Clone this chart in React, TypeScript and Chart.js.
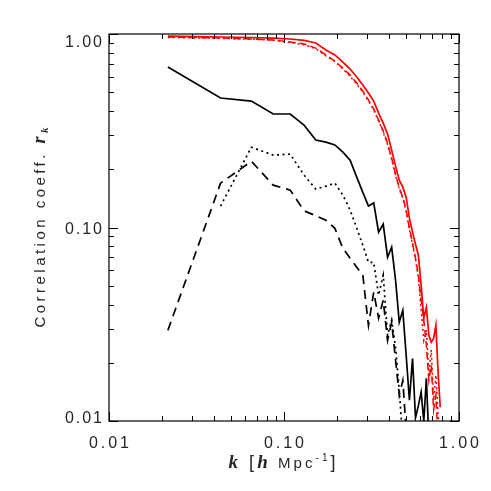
import { useEffect, useRef } from "react";
import { Chart, registerables } from "chart.js";

Chart.register(...registerables);

// wavenumber k [h/Mpc]
const K = [
  0.0217, 0.0434, 0.0651, 0.0868, 0.1085, 0.1302, 0.1519, 0.1736, 0.1953, 0.217,
  0.2387, 0.2604, 0.2821, 0.3038, 0.3255, 0.3472, 0.3689, 0.3906, 0.4123, 0.434,
  0.4557, 0.4774, 0.4991, 0.5208, 0.5425, 0.5642, 0.5859, 0.6076, 0.6293, 0.651,
  0.6727, 0.6944, 0.7161, 0.7378, 0.7595, 0.7812,
];

const RED_SOLID = [
  0.976, 0.965, 0.959, 0.953, 0.942, 0.926, 0.898, 0.826, 0.779, 0.716,
  0.659, 0.599, 0.545, 0.495, 0.45, 0.39, 0.346, 0.304, 0.251, 0.2075,
  0.1757, 0.1616, 0.1435, 0.1117, 0.0946, 0.0819, 0.0719, 0.0503, 0.034, 0.0387,
  0.0277, 0.0255, 0.0267, 0.0312, 0.0178, 0.0118,
];

const RED_DASHED = [
  0.965, 0.953, 0.942, 0.931, 0.909, 0.888, 0.846, 0.779, 0.725, 0.666,
  0.613, 0.558, 0.507, 0.456, 0.41, 0.359, 0.315, 0.273, 0.228, 0.189,
  0.16, 0.1435, 0.123, 0.0992, 0.083, 0.0694, 0.0567, 0.0421, 0.0332, 0.0247,
  0.0162, 0.0194, 0.0114, 0.0136, 0.008, null,
];

const RED_DOTTED = [
  0.96, 0.95, 0.94, 0.928, 0.905, 0.88, 0.84, 0.77, 0.72, 0.66,
  0.605, 0.55, 0.5, 0.45, 0.405, 0.355, 0.31, 0.268, 0.225, 0.186,
  0.158, 0.141, 0.121, 0.0975, 0.0815, 0.068, 0.055, 0.0373, 0.0261, 0.0295,
  0.0173, 0.0233, 0.0128, 0.0173, 0.0107, 0.008,
];

const BLACK_SOLID = [
  0.675, 0.467, 0.45, 0.386, 0.386, 0.338, 0.283, 0.276, 0.267, 0.245,
  0.223, 0.182, 0.152, 0.129, 0.134, 0.0946, 0.104, 0.0702, 0.0791, 0.0534,
  0.0324, 0.0373, 0.0218, 0.0128, 0.021, 0.0104, 0.012, 0.0141, 0.01, 0.0166,
  0.008, null, null, null, null, null,
];

const BLACK_DASHED = [
  0.0294, 0.1695, 0.22, 0.1655, 0.156, 0.122, 0.115, 0.109, 0.099, 0.078,
  0.0694, 0.0623, 0.0567, 0.0312, 0.0463, 0.034, 0.0421, 0.0261, 0.0324, 0.0206,
  0.0136, 0.0162, 0.0089, null, null, null, null, null, null, null,
  null, null, null, null, null, null,
];

const BLACK_DOTTED = [
  null, 0.129, 0.26, 0.2366, 0.2394, 0.1865, 0.158, 0.1635, 0.1695, 0.147,
  0.123, 0.0992, 0.081, 0.0661, 0.0661, 0.0447, 0.0567, 0.0277, 0.0332, 0.024,
  0.0144, 0.0079, null, null, null, null, null, null, null, null,
  null, null, null, null, null, null,
];

const X_TICKS = [0.01, 0.1, 1];
const X_TICK_LABELS = ["0.01", "0.10", "1.00"];
const Y_TICKS = [0.01, 0.1, 1];
const Y_TICK_LABELS = ["0.01", "0.10", "1.00"];

const SANS = '"Liberation Sans", "DejaVu Sans", sans-serif';
const SERIF = '"Liberation Serif", "DejaVu Serif", serif';

type Part = { t: string; font: string; dy?: number };

// draws a run of text pieces with extra letter spacing so that it spans targetW
function drawSpaced(
  ctx: CanvasRenderingContext2D,
  parts: Part[],
  anchorX: number,
  baseline: number,
  targetW: number,
  align: "left" | "center" | "right",
) {
  const c: any = ctx;
  c.letterSpacing = "0px";
  let total = 0;
  let chars = 0;
  const widths: number[] = [];
  for (const p of parts) {
    ctx.font = p.font;
    const w = ctx.measureText(p.t).width;
    widths.push(w);
    total += w;
    chars += p.t.length;
  }
  const ls = Math.max(0, (targetW - total) / Math.max(1, chars - 1));
  const startX = align === "left" ? anchorX : align === "center" ? anchorX - targetW / 2 : anchorX - targetW;
  ctx.save();
  ctx.textAlign = "left";
  ctx.textBaseline = "alphabetic";
  c.letterSpacing = `${ls}px`;
  let x = startX;
  parts.forEach((p, i) => {
    ctx.font = p.font;
    ctx.fillText(p.t, x, baseline + (p.dy || 0));
    x += widths[i] + ls * p.t.length;
  });
  c.letterSpacing = "0px";
  ctx.restore();
}

const idlAxes = {
  id: "idlAxes",
  afterDatasetsDraw(chart: any) {
    const { ctx, chartArea: a, scales } = chart;
    const xs = scales.x;
    const ys = scales.y;
    ctx.save();
    ctx.strokeStyle = "#000";
    ctx.lineWidth = 1.2;
    ctx.setLineDash([]);
    ctx.strokeRect(a.left, a.top, a.right - a.left, a.bottom - a.top);

    const minor: number[] = [];
    for (const d of [0.01, 0.1]) for (let m = 2; m <= 9; m++) minor.push(d * m);

    const tickX = (v: number, len: number) => {
      const px = Math.round(xs.getPixelForValue(v)) + 0.5;
      ctx.beginPath();
      ctx.moveTo(px, a.bottom);
      ctx.lineTo(px, a.bottom - len);
      ctx.moveTo(px, a.top);
      ctx.lineTo(px, a.top + len);
      ctx.stroke();
    };
    const tickY = (v: number, len: number) => {
      const py = Math.round(ys.getPixelForValue(v)) + 0.5;
      ctx.beginPath();
      ctx.moveTo(a.left, py);
      ctx.lineTo(a.left + len, py);
      ctx.moveTo(a.right, py);
      ctx.lineTo(a.right - len, py);
      ctx.stroke();
    };
    ctx.lineWidth = 1;
    for (const v of minor) {
      tickX(v, 5);
      tickY(v, 5);
    }
    for (const v of X_TICKS) tickX(v, 9);
    for (const v of Y_TICKS) tickY(v, 9);

    ctx.fillStyle = "#262626";
    const tickFont = `16px ${SANS}`;
    X_TICKS.forEach((v, i) => {
      drawSpaced(ctx, [{ t: X_TICK_LABELS[i], font: tickFont }], xs.getPixelForValue(v), a.bottom + 27, 40, "center");
    });
    Y_TICKS.forEach((v, i) => {
      let base = ys.getPixelForValue(v) + 6;
      base = Math.max(a.top + 13, Math.min(a.bottom + 2, base));
      drawSpaced(ctx, [{ t: Y_TICK_LABELS[i], font: tickFont }], a.left - 7, base, 37, "right");
    });

    // x title: k [h Mpc^-1]
    const xParts: Part[] = [
      { t: "k", font: `bold italic 19px ${SERIF}` },
      { t: " [", font: `18px ${SANS}` },
      { t: "h", font: `bold italic 19px ${SERIF}` },
      { t: " Mpc", font: `15px ${SANS}` },
      { t: "-1", font: `10px ${SANS}`, dy: -7 },
      { t: "]", font: `18px ${SANS}` },
    ];
    drawSpaced(ctx, xParts, 282, 468, 107, "center");

    // y title
    ctx.save();
    ctx.translate(45, (a.top + a.bottom) / 2);
    ctx.rotate(-Math.PI / 2);
    const yParts: Part[] = [
      { t: "Correlation coeff. ", font: `15px ${SANS}` },
      { t: "r", font: `bold italic 18px ${SERIF}` },
      { t: "k", font: `bold italic 11px ${SERIF}`, dy: 3 },
    ];
    drawSpaced(ctx, yParts, 0, 0, 200, "center");
    ctx.restore();

    ctx.restore();
  },
};

export default function App() {
  const ref = useRef<HTMLCanvasElement>(null);
  useEffect(() => {
    const line = (data: (number | null)[], color: string, width: number, dash: number[]) => ({
      data,
      borderColor: color,
      backgroundColor: color,
      borderWidth: width,
      borderDash: dash,
      pointRadius: 0,
      tension: 0,
      fill: false,
      spanGaps: false,
    });
    const chart = new Chart(ref.current!, {
      type: "line",
      data: {
        labels: K,
        datasets: [
          line(RED_DOTTED, "#ff0000", 1.5, [2, 3]),
          line(RED_DASHED, "#ff0000", 1.5, [7, 4]),
          line(RED_SOLID, "#ff0000", 1.7, []),
          line(BLACK_DOTTED, "#000000", 1.7, [2, 3.5]),
          line(BLACK_DASHED, "#000000", 1.7, [9, 6]),
          line(BLACK_SOLID, "#000000", 1.7, []),
        ] as any,
      },
      options: {
        responsive: false,
        devicePixelRatio: 1,
        animation: false,
        layout: { padding: { left: 109, top: 34, right: 32, bottom: 70 } },
        plugins: { legend: { display: false }, tooltip: { enabled: false }, title: { display: false } },
        scales: {
          x: { type: "logarithmic", min: 0.01, max: 1, display: false },
          y: { type: "logarithmic", min: 0.01, max: 1, display: false },
        },
      },
      plugins: [idlAxes],
    } as any);
    return () => chart.destroy();
  }, []);
  return (
    <div style={{ position: "absolute", left: 0, top: 0, width: 491, height: 491, background: "#fff" }}>
      <canvas ref={ref} width={491} height={491} style={{ display: "block", width: 491, height: 491 }} />
    </div>
  );
}
